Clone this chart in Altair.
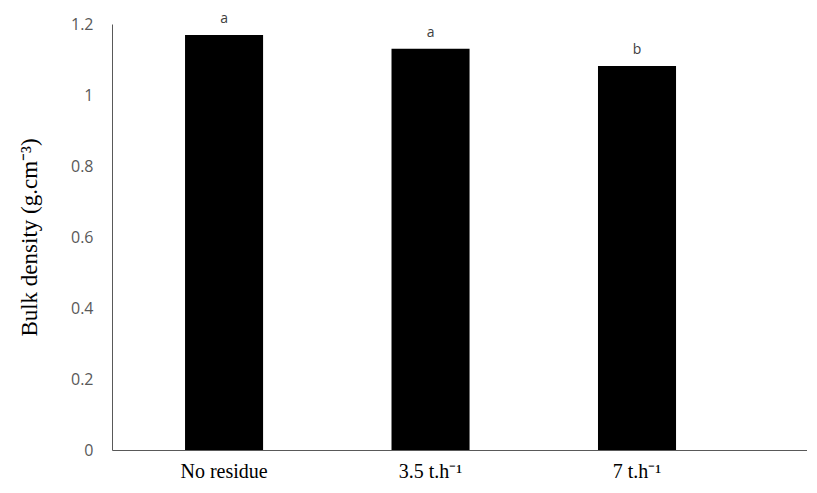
import altair as alt
import pandas as pd

categories = ["No residue", "3.5 t.h⁻¹", "7 t.h⁻¹"]
values = [1.169, 1.130, 1.082]
letters = ["a", "a", "b"]

df = pd.DataFrame({"cat": categories, "val": values, "letter": letters})

x = alt.X("cat:N", sort=categories, title=None,
          scale=alt.Scale(paddingInner=0.622, paddingOuter=0.494, align=0.358),
          axis=alt.Axis(labelAngle=0, labelFont="Liberation Serif", labelFontSize=20,
                        labelColor="#000000", labelPadding=11, ticks=False,
                        domainColor="#595959", domainWidth=1))
y = alt.Y("val:Q", title="Bulk density (g.cm⁻³)",
          scale=alt.Scale(domain=[0, 1.2], nice=False),
          axis=alt.Axis(values=[0, 0.2, 0.4, 0.6, 0.8, 1, 1.2], format="~g", grid=False, ticks=False,
                        labelFont="Open Sans", labelFontSize=16, labelColor="#595959",
                        labelPadding=19, domainColor="#595959", domainWidth=1,
                        titleFont="Liberation Serif", titleFontSize=23, titleFontWeight="normal",
                        titleColor="#000000", titlePadding=29))

bars = alt.Chart(df).mark_bar(color="#000000").encode(x=x, y=y)
text = alt.Chart(df).mark_text(dy=-16, font="Open Sans", fontSize=14, color="#404040").encode(
    x=alt.X("cat:N", sort=categories),
    y=alt.Y("val:Q"), text="letter:N")

chart = (bars + text).properties(
    width=695, height=426,
    background="white",
    autosize=alt.AutoSizeParams(type="none"),
    padding={"left": 104, "top": 16, "right": 0, "bottom": 35}
).configure_view(stroke=None)

chart.save("out.html", embed_options={"renderer": "svg", "actions": False})
